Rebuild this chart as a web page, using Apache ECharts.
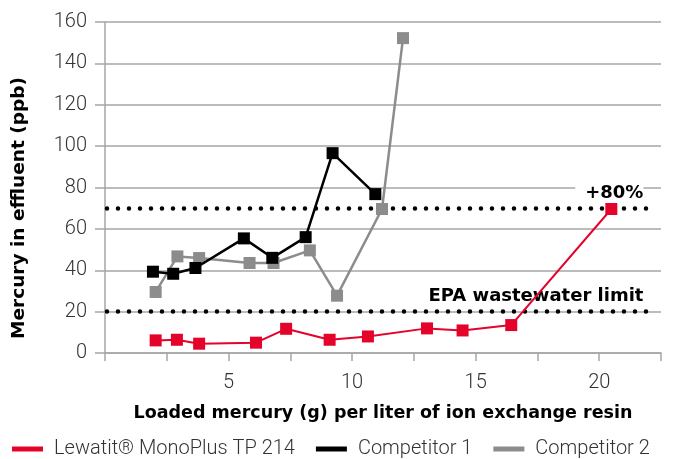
<!DOCTYPE html>
<html><head><meta charset="utf-8">
<script src="https://cdn.jsdelivr.net/npm/echarts@6/dist/echarts.min.js"></script>
<style>html,body{margin:0;padding:0;background:#fff}#c{width:676px;height:459px}</style>
</head><body><div id="c"></div>
<script>
const lewatitX = [2.05, 2.91, 3.81, 6.11, 7.33, 9.09, 10.64, 13.03, 14.47, 16.44, 20.49];
const lewatitY = [6.1, 6.4, 4.5, 5.0, 11.7, 6.4, 8.0, 11.9, 10.9, 13.5, 69.6];
const comp1X = [1.94, 2.76, 3.66, 5.62, 6.77, 8.12, 9.21, 10.94];
const comp1Y = [39.3, 38.3, 41.1, 55.4, 46.0, 56.0, 96.6, 76.8];
const comp2X = [2.05, 2.93, 3.81, 5.85, 6.82, 8.29, 9.39, 11.21, 12.06];
const comp2Y = [29.5, 46.7, 45.9, 43.5, 43.5, 49.6, 27.7, 69.6, 152.2];
const seriesNames = ['Lewatit® MonoPlus TP 214', 'Competitor 1', 'Competitor 2'];
const refLines = [{value: 70, label: '+80%'}, {value: 20, label: 'EPA wastewater limit'}];
const xAxisName = 'Loaded mercury (g) per liter of ion exchange resin';
const yAxisName = 'Mercury in effluent (ppb)';

const zip = (xs, ys) => xs.map((x, i) => [x, ys[i]]);
const lightFont = 'Roboto';
const boldFont = 'DejaVu Sans';
const colors = ['#e3032b', '#000000', '#8c8c8c'];

const chart = echarts.init(document.getElementById('c'));
chart.setOption({
  animation: false,
  grid: {left: 105, top: 22, right: 15, bottom: 106},
  legend: {
    left: 12, bottom: 0, padding: 0, icon: 'rect', itemWidth: 31, itemHeight: 5, itemGap: 21,
    textStyle: {fontFamily: lightFont, fontWeight: 300, fontSize: 20, color: '#333', padding: [0, 0, 0, 6]},
    data: seriesNames
  },
  xAxis: {
    type: 'value', min: 0, max: 22.5, interval: 2.5,
    name: xAxisName, nameLocation: 'middle', nameGap: 51,
    nameTextStyle: {fontFamily: boldFont, fontWeight: 'bold', fontSize: 17.5, color: '#000'},
    axisLine: {show: true, lineStyle: {color: '#a6a6a6', width: 1.5}},
    axisTick: {show: true, length: 8, lineStyle: {color: '#a6a6a6', width: 1.5}},
    axisLabel: {
      margin: 20, fontFamily: lightFont, fontWeight: 300, fontSize: 20, color: '#333',
      formatter: v => (v > 0 && v % 5 === 0) ? String(v) : ''
    },
    splitLine: {show: false}
  },
  yAxis: {
    type: 'value', min: 0, max: 160, interval: 20,
    name: yAxisName, nameLocation: 'middle', nameGap: 76,
    nameTextStyle: {fontFamily: boldFont, fontWeight: 'bold', fontSize: 18.5, color: '#000', padding: [0, 41, 0, 0]},
    axisLine: {show: true, lineStyle: {color: '#a6a6a6', width: 1.5}},
    axisTick: {show: true, inside: false, length: 10, lineStyle: {color: '#a6a6a6', width: 1.5}},
    axisLabel: {margin: 18, fontFamily: lightFont, fontWeight: 300, fontSize: 20, color: '#333'},
    splitLine: {show: true, lineStyle: {color: '#a6a6a6', width: 1.5}}
  },
  series: [
    {
      name: seriesNames[0], type: 'line', data: zip(lewatitX, lewatitY),
      color: colors[0], symbol: 'rect', symbolSize: 12, z: 5,
      lineStyle: {width: 2, color: colors[0]}, itemStyle: {color: colors[0]},
      markLine: {
        silent: true, symbol: 'none', z: 1,
        lineStyle: {color: '#000', width: 4.5, type: [0, 11], cap: 'round'},
        label: {
          show: true, position: 'insideEndTop', distance: [4, 6],
          fontFamily: boldFont, fontWeight: 'bold', fontSize: 18, color: '#000',
          backgroundColor: '#fff', padding: [0, 0, 0, 10]
        },
        data: refLines.map(r => [
          {coord: [0.08, r.value], label: {formatter: r.label}},
          {coord: [21.95, r.value]}
        ])
      }
    },
    {
      name: seriesNames[1], type: 'line', data: zip(comp1X, comp1Y),
      color: colors[1], symbol: 'rect', symbolSize: 12, z: 4,
      lineStyle: {width: 2.5, color: colors[1]}, itemStyle: {color: colors[1]}
    },
    {
      name: seriesNames[2], type: 'line', data: zip(comp2X, comp2Y),
      color: colors[2], symbol: 'rect', symbolSize: 12, z: 3,
      lineStyle: {width: 2.5, color: colors[2]}, itemStyle: {color: colors[2]}
    }
  ]
});
</script></body></html>
